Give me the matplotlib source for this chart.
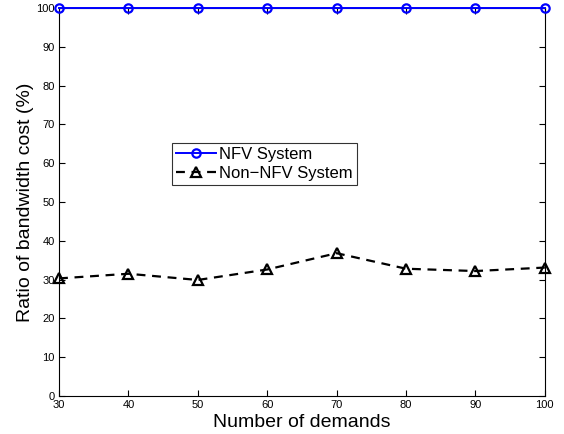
import matplotlib
matplotlib.use('Agg')
import matplotlib.pyplot as plt

plt.rcParams['font.family'] = ['Liberation Sans', 'DejaVu Sans']

demands = [30, 40, 50, 60, 70, 80, 90, 100]
nfv = [100, 100, 100, 100, 100, 100, 100, 100]
non_nfv = [30.3, 31.5, 29.9, 32.6, 36.8, 32.8, 32.2, 33.1]

fig = plt.figure(figsize=(5.64, 4.34), dpi=100)
ax = fig.add_axes([0.1046, 0.0876, 0.8614, 0.894])

ax.plot(demands, nfv, color='blue', linestyle='-', linewidth=1.4, marker='o',
        markersize=6, markerfacecolor='none', markeredgewidth=1.6,
        label='NFV System', clip_on=False, zorder=5)
ax.plot(demands, non_nfv, color='black', linestyle='--', linewidth=1.6, marker='^',
        markersize=7, markerfacecolor='none', markeredgewidth=1.6,
        label='Non\u2212NFV System', dashes=(4, 3), clip_on=False)

ax.set_xlim(30, 100)
ax.set_ylim(0, 100)
ax.set_xticks(demands)
ax.set_yticks(range(0, 101, 10))
ax.tick_params(direction='in', top=True, right=True, labelsize=8, length=4, width=0.8, pad=3)
for s in ax.spines.values():
    s.set_linewidth(0.8)

ax.set_xlabel('Number of demands', fontsize=14, labelpad=3)
ax.set_ylabel('Ratio of bandwidth cost (%)', fontsize=14, labelpad=2)

leg = ax.legend(loc='upper left', bbox_to_anchor=(0.2325, 0.652), fontsize=12,
                frameon=True, fancybox=False, edgecolor='black', handlelength=2.4,
                handletextpad=0.2, borderpad=0.25, labelspacing=0.2, borderaxespad=0)
leg.get_frame().set_linewidth(0.8)

fig.savefig('out.png', dpi=100)
